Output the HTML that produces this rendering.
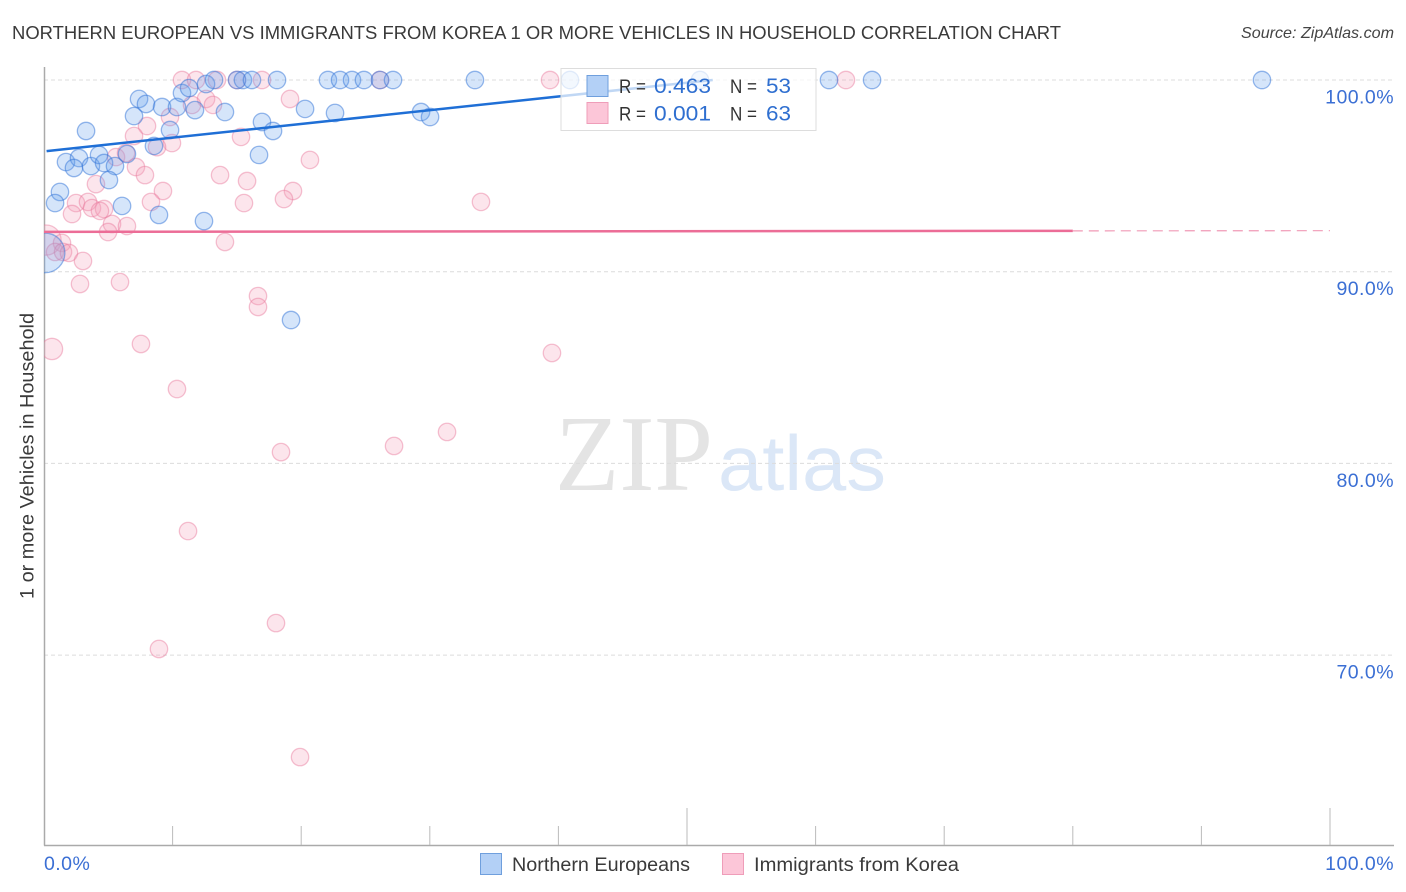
<!DOCTYPE html>
<html lang="en">
<head>
<meta charset="utf-8">
<title>Northern European vs Immigrants from Korea Correlation Chart</title>
<style>
html,body{margin:0;padding:0;background:#fff;width:1406px;height:892px;overflow:hidden}
svg{display:block}
text{font-family:"Liberation Sans",sans-serif}
</style>
</head>
<body>
<svg id="chart" width="1406" height="892" viewBox="0 0 1406 892" xmlns="http://www.w3.org/2000/svg">
  <defs><clipPath id="plot-clip"><rect x="44" y="60" width="1350" height="785"/></clipPath></defs>
  <text x="12" y="39" font-size="18.5" fill="#3a3a3a" textLength="1049" lengthAdjust="spacingAndGlyphs">NORTHERN EUROPEAN VS IMMIGRANTS FROM KOREA 1 OR MORE VEHICLES IN HOUSEHOLD CORRELATION CHART</text>
  <text x="1241" y="38" font-size="16" font-style="italic" fill="#444" textLength="153" lengthAdjust="spacingAndGlyphs">Source: ZipAtlas.com</text>
  <g>
    <text x="555" y="490" font-size="108" fill="#e4e4e4" textLength="158" lengthAdjust="spacingAndGlyphs" style="font-family:'Liberation Serif',serif">ZIP</text>
    <text x="718" y="490" font-size="78" fill="#dbe7f7" textLength="168" lengthAdjust="spacingAndGlyphs">atlas</text>
  </g>
  <g id="grid"></g>
  <g id="axes"></g>
  <g id="pink-points" clip-path="url(#plot-clip)"></g>
  <g id="blue-points" clip-path="url(#plot-clip)"></g>
  <g id="trends"></g>
  <text transform="translate(33.5,456) rotate(-90)" font-size="19" fill="#3a3a3a" text-anchor="middle" textLength="286" lengthAdjust="spacingAndGlyphs">1 or more Vehicles in Household</text>
  <g id="tick-labels"></g>
  <g>
    <rect x="561" y="68.5" width="255" height="62" fill="#fff" fill-opacity="0.72" stroke="#ddd" stroke-width="1"/>
    <rect x="587" y="75.5" width="21" height="21" fill="#b3d0f6" stroke="#6f9fdd"/>
    <rect x="587" y="102.5" width="21" height="21" fill="#fcc6d8" stroke="#ef9db9"/>
    <text x="619" y="93" font-size="19.5" fill="#333" textLength="27" lengthAdjust="spacingAndGlyphs">R =</text>
    <text x="654" y="93" font-size="21" fill="#2f6fd0" textLength="57" lengthAdjust="spacingAndGlyphs">0.463</text>
    <text x="730" y="93" font-size="19.5" fill="#333" textLength="27" lengthAdjust="spacingAndGlyphs">N =</text>
    <text x="766" y="93" font-size="21" fill="#2f6fd0" textLength="25" lengthAdjust="spacingAndGlyphs">53</text>
    <text x="619" y="120.5" font-size="19.5" fill="#333" textLength="27" lengthAdjust="spacingAndGlyphs">R =</text>
    <text x="654" y="120.5" font-size="21" fill="#2f6fd0" textLength="57" lengthAdjust="spacingAndGlyphs">0.001</text>
    <text x="730" y="120.5" font-size="19.5" fill="#333" textLength="27" lengthAdjust="spacingAndGlyphs">N =</text>
    <text x="766" y="120.5" font-size="21" fill="#2f6fd0" textLength="25" lengthAdjust="spacingAndGlyphs">63</text>
  </g>
  <g>
    <g>
      <rect x="480.5" y="853.5" width="21" height="21" fill="#b3d0f6" stroke="#6f9fdd"/>
      <text x="512" y="871" font-size="19" fill="#3a3a3a" textLength="178" lengthAdjust="spacingAndGlyphs">Northern Europeans</text>
    </g>
    <g>
      <rect x="722.5" y="853.5" width="21" height="21" fill="#fcc6d8" stroke="#ef9db9"/>
      <text x="754" y="871" font-size="19" fill="#3a3a3a" textLength="205" lengthAdjust="spacingAndGlyphs">Immigrants from Korea</text>
    </g>
  </g>
</svg>
<script>
const yTickValues = [100, 90, 80, 70];
const yTickLabels = ["100.0%", "90.0%", "80.0%", "70.0%"];
const xTickValues = [10, 20, 30, 40, 50, 60, 70, 80, 90, 100];
const xMajorTicks = [50, 100];
const xEndValues = [0, 100];
const xEndLabels = ["0.0%", "100.0%"];

const blueX = [3.27,7.39,7.93,7.0,9.18,10.34,10.73,11.28,12.6,13.22,11.74,14.07,9.8,8.55,6.45,1.71,2.72,2.33,3.65,4.28,4.67,5.52,5.05,1.24,0.86,6.07,8.94,12.44,16.72,16.95,17.81,20.3,22.63,15.01,15.47,16.17,18.12,22.08,23.02,23.95,24.88,26.13,27.14,33.51,29.32,30.02,19.21,40.9,51.01,61.04,64.39,94.71,0.08];
const blueY = [97.34,99.01,98.75,98.12,98.59,98.59,99.32,99.58,99.79,100,98.43,98.33,97.39,96.56,96.14,95.72,95.93,95.41,95.51,96.09,95.67,95.51,94.78,94.16,93.58,93.43,92.96,92.64,96.09,97.81,97.34,98.49,98.28,100,100,100,100,100,100,100,100,100,100,100,98.33,98.07,87.48,100,100,100,100,100,90.98];
const blueWeight = [1,1,1,1,1,1,1,1,1,1,1,1,1,1,1,1,1,1,1,1,1,1,1,1,1,1,1,1,1,1,1,1,1,1,1,1,1,1,1,1,1,1,1,1,1,1,1,1,1,1,1,1,5.2];

const pinkX = [10.73,11.82,13.45,15.01,16.95,26.13,39.35,62.36,19.13,12.6,13.14,11.51,9.8,8.01,7.0,15.32,9.95,8.79,5.6,6.38,20.68,13.69,15.79,7.15,7.85,4.04,9.25,19.36,18.66,15.55,8.32,2.49,3.42,3.73,2.18,4.67,4.35,5.29,6.45,4.98,14.07,0.16,1.4,0.86,1.48,1.94,3.03,2.8,5.91,16.64,16.64,0.62,7.54,10.34,39.5,33.98,31.34,27.22,18.43,11.2,18.04,8.94,19.91];
const pinkY = [100,100,100,100,100,100,100,100,99.01,99.01,98.7,98.7,98.07,97.6,97.08,97.03,96.71,96.5,95.98,96.19,95.83,95.04,94.73,95.46,95.04,94.57,94.21,94.21,93.79,93.58,93.64,93.58,93.64,93.32,93.01,93.27,93.17,92.49,92.38,92.07,91.55,91.65,91.5,91.03,91.03,90.98,90.56,89.36,89.46,88.73,88.16,85.97,86.23,83.88,85.76,93.64,81.64,80.91,80.59,76.47,71.67,70.32,64.68];
const pinkWeight = [1,1,1,1,1,1,1,1,1,1,1,1,1,1,1,1,1,1,1,1,1,1,1,1,1,1,1,1,1,1,1,1,1,1,1,1,1,1,1,1,1,3,1,1,1,1,1,1,1,1,1,1.5,1,1,1,1,1,1,1,1,1,1,1];

const blueTrendX = [0.2, 52];
const blueTrendY = [96.29, 100];
const pinkTrendX = [0, 80];
const pinkTrendY = [92.08, 92.13];
const pinkDashX = [80, 100];
const pinkDashY = [92.13, 92.14];

const NS = 'http://www.w3.org/2000/svg';
const xScale = v => 44 + v * 12.86;
const yScale = v => 80 + (100 - v) * 19.17;
const radius = w => 8.7 * Math.sqrt(w);

function make(parent, tag, attrs, text) {
  const el = document.createElementNS(NS, tag);
  for (const k in attrs) el.setAttribute(k, attrs[k]);
  if (text !== undefined) el.textContent = text;
  parent.appendChild(el);
  return el;
}

const grid = document.getElementById('grid');
const axes = document.getElementById('axes');
const labels = document.getElementById('tick-labels');
const pinkG = document.getElementById('pink-points');
const blueG = document.getElementById('blue-points');
const trends = document.getElementById('trends');

yTickValues.forEach((v, i) => {
  const line = make(grid, 'line', {x1: 44, x2: 1394, y1: yScale(v), y2: yScale(v), stroke: '#dcdcdc', 'stroke-width': 1, 'stroke-dasharray': '4 3'});
  
  
  const t = make(labels, 'text', {x: 1394, y: yScale(v) + 23.5, 'font-size': 19.5, 'letter-spacing': 0.45, fill: '#3b6fd4', 'text-anchor': 'end'}, yTickLabels[i]);
  
  
});

const yAxis = make(axes, 'line', {x1: 44.5, x2: 44.5, y1: 67, y2: 845.5, stroke: '#aaa', 'stroke-width': 1.5});


const xAxis = make(axes, 'line', {x1: 44, x2: 1394, y1: 845.5, y2: 845.5, stroke: '#aaa', 'stroke-width': 1.5});



xTickValues.forEach(v => {
  const top = xMajorTicks.includes(v) ? 808 : 826;
  const tick = make(axes, 'line', {x1: xScale(v), x2: xScale(v), y1: top, y2: 845, stroke: '#bbb', 'stroke-width': 1});
  
  
});

xEndValues.forEach((v, i) => {
  const isLast = i === xEndValues.length - 1;
  const t = make(labels, 'text', {x: isLast ? 1394 : xScale(v), y: 870, 'font-size': 19.5, 'letter-spacing': 0.45, fill: '#3b6fd4', 'text-anchor': isLast ? 'end' : 'start'}, xEndLabels[i]);
  
  
});

pinkX.forEach((v, i) => {
  const c = make(pinkG, 'circle', {cx: xScale(v), cy: yScale(pinkY[i]), r: radius(pinkWeight[i]), fill: 'rgba(245,160,185,0.27)', stroke: 'rgba(232,120,155,0.45)', 'stroke-width': 1.3});
  
  
});

blueX.forEach((v, i) => {
  const c = make(blueG, 'circle', {cx: xScale(v), cy: yScale(blueY[i]), r: radius(blueWeight[i]), fill: 'rgba(100,160,235,0.27)', stroke: 'rgba(50,115,215,0.5)', 'stroke-width': 1.3});
  
  
});

const blueLine = make(trends, 'line', {x1: xScale(blueTrendX[0]), y1: yScale(blueTrendY[0]), x2: xScale(blueTrendX[1]), y2: yScale(blueTrendY[1]), stroke: '#1f6fd6', 'stroke-width': 2.5});


const pinkLine = make(trends, 'line', {x1: xScale(pinkTrendX[0]), y1: yScale(pinkTrendY[0]), x2: xScale(pinkTrendX[1]), y2: yScale(pinkTrendY[1]), stroke: '#ec6d97', 'stroke-width': 2.5});


const pinkDash = make(trends, 'line', {x1: xScale(pinkDashX[0]), y1: yScale(pinkDashY[0]), x2: xScale(pinkDashX[1]), y2: yScale(pinkDashY[1]), stroke: '#f09ab6', 'stroke-width': 1.2, 'stroke-dasharray': '10 6'});


</script>
</body>
</html>
